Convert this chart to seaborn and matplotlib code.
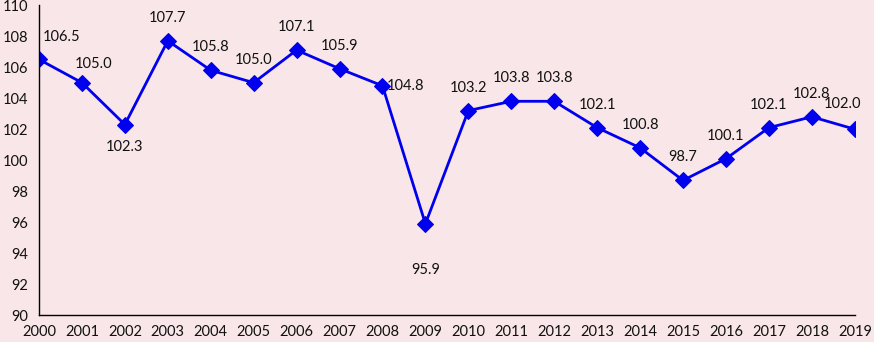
import numpy as np
import pandas as pd
import matplotlib
matplotlib.use('Agg')
from matplotlib import pyplot as plt
import seaborn as sns

# ---- data
years = list(range(2000, 2020))
values = [106.5, 105.0, 102.3, 107.7, 105.8, 105.0, 107.1, 105.9, 104.8, 95.9,
          103.2, 103.8, 103.8, 102.1, 100.8, 98.7, 100.1, 102.1, 102.8, 102.0]

df = pd.DataFrame({'year': years, 'value': values})

# label offsets in pixels (dx, dy)
offsets = {2000: (23, 22), 2001: (12, 19), 2002: (0, -22), 2008: (23, 0),
           2009: (0, -46), 2019: (-12, 25)}

bg = '#F8E6E8'
blue = '#0000EE'

sns.set_style('white')
plt.rcParams['font.family'] = ['Lato', 'DejaVu Sans']

fig, ax = plt.subplots(figsize=(8.74, 3.42), dpi=100)
fig.patch.set_facecolor(bg)
ax.set_facecolor(bg)
fig.subplots_adjust(left=0.0446, right=0.978, top=0.985, bottom=0.078)

sns.lineplot(data=df, x='year', y='value', ax=ax, color=blue, linewidth=2,
             marker='D', markersize=8.5, markeredgecolor=blue, markerfacecolor=blue)

for yr, v in zip(years, values):
    dx, dy = offsets.get(yr, (0, 23))
    ax.annotate(f'{v:.1f}', (yr, v), xytext=(dx, dy), textcoords='offset pixels',
                ha='center', va='center', fontsize=10.5, color='#111111',
                annotation_clip=False)

ax.set_xlim(2000, 2019)
ax.set_ylim(90, 110)
ax.set_xticks(years)
ax.set_yticks(np.arange(90, 111, 2))
ax.set_xlabel('')
ax.set_ylabel('')
for s in ['top', 'right']:
    ax.spines[s].set_visible(False)
for s in ['left', 'bottom']:
    ax.spines[s].set_color('black')
    ax.spines[s].set_linewidth(1)
ax.tick_params(axis='both', direction='out', length=5, width=1, color='#555555',
               labelsize=10.5, labelcolor='#111111', pad=3)
ax.tick_params(axis='x', pad=2)

fig.savefig('out.png', dpi=100, facecolor=bg)
